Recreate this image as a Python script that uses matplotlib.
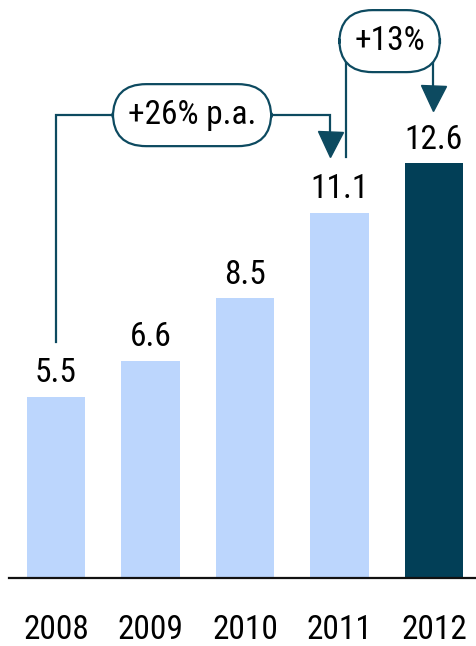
import matplotlib
matplotlib.use("Agg")
import matplotlib.pyplot as plt

years = ["2008", "2009", "2010", "2011", "2012"]
values = [5.5, 6.6, 8.5, 11.1, 12.6]
cagr_label = "+26% p.a."
yoy_label = "+13%"

light = "#BCD6FD"
dark = "#023F57"
line_col = "#0D4A60"

plt.rcParams['font.family'] = ['Roboto Condensed', 'Liberation Sans', 'DejaVu Sans']

W, H = 477, 646
fig = plt.figure(figsize=(W / 100, H / 100), dpi=100)
# axes from the baseline up, starting where the axis line starts
ax = fig.add_axes([9 / W, 68 / H, 1 - 9 / W, 1 - 68 / H])

x = list(range(len(years)))
colors = [light] * (len(years) - 1) + [dark]
ax.bar(x, values, width=0.615, color=colors)

ax.set_xlim(-0.497, 4.455)
ax.set_ylim(0, 17.57)

for xi, v in zip(x, values):
    ax.annotate(f"{v}", (xi, v), xytext=(0, 17), textcoords="offset points",
                ha="center", va="center", fontsize=24)

ax.set_xticks(x, years, fontsize=24)
ax.tick_params(axis="x", length=0, pad=26)
ax.set_yticks([])
for s in ["top", "right", "left"]:
    ax.spines[s].set_visible(False)
ax.spines["bottom"].set_linewidth(1.6)
ax.spines["bottom"].set_color("#111111")

lw = 1.6

def connector(x0, y0, y_top, x1, y_tip, label, lx):
    ax.plot([x0, x0, x1, x1], [y0, y_top, y_top, y_tip + 0.7],
            color=line_col, lw=lw, solid_joinstyle="miter", zorder=3)
    # filled arrow head
    ax.plot([x1], [y_tip + 0.38], marker="v", ms=18, color=line_col,
            mec=line_col, zorder=4)
    ax.text(lx, y_top, label, ha="center", va="center", fontsize=24, zorder=5,
            bbox=dict(boxstyle="round,pad=0.45,rounding_size=1.0",
                      fc="white", ec=line_col, lw=lw))

# 2008 -> 2011
connector(0, values[0] + 1.67, 14.07, 2.9, values[3] + 1.7, cagr_label, 1.44)
# 2011 -> 2012
connector(3.07, values[3] + 1.7, 16.32, 3.99, values[4] + 1.6, yoy_label, 3.53)

fig.savefig("out.png", dpi=100)
